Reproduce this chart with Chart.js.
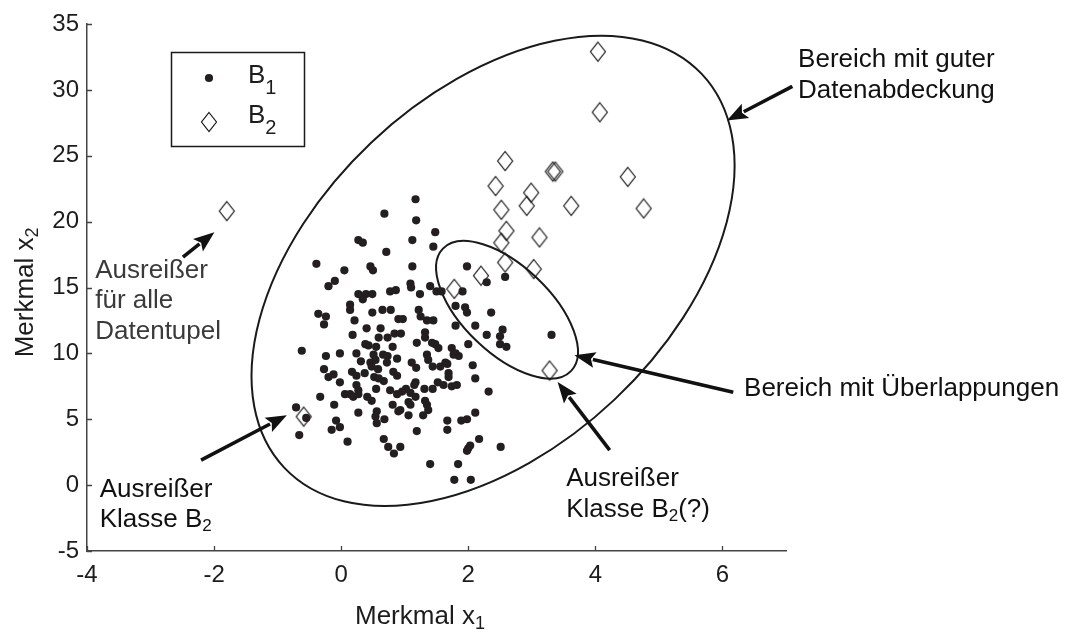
<!DOCTYPE html>
<html>
<head>
<meta charset="utf-8">
<script src="https://cdn.jsdelivr.net/npm/chart.js@4.4.1/dist/chart.umd.min.js"></script>
<style>
  html, body { margin: 0; padding: 0; background: #fff; }
  #wrap { width: 1071px; height: 637px; }
</style>
</head>
<body>
<div id="wrap"><canvas id="c" width="1071" height="637"></canvas></div>
<script>
// Class B1 samples (feature x1, feature x2)
const b1X = [
  0.68, 0.27, 0.34, 0.71, -0.39, 0.05, 0.46, 0.50, -0.10, -0.20, 0.27, 0.39, 0.49, 0.34, 0.77, 0.86, 0.14,
  0.14, -0.36, -0.24, -0.27, 0.21, 0.49, 0.65, 0.78, 0.90, 0.97, 0.40, 0.62, 0.18, 0.59, 0.73, 0.84, 0.94,
  1.17, 1.18, 1.48, 1.12, 1.45, 1.12, 1.98, 2.58, 2.29, 1.09, 1.10, 1.40, 1.50, 1.58, 1.91, 1.24,
  1.80, 1.95, 1.98, 2.36, 1.22, 1.25, 1.45, 1.35, 1.80, 2.11, 2.54, 2.50, 2.29, 3.31, 1.32, 1.32,
  -0.62, -0.24, -0.02, 0.24, -0.27, -0.20, -0.12, -0.02, 0.17, 0.24, 0.31, 0.37, 0.38, 0.43, 0.55,
  0.81, 0.51, 0.54, 0.66, 0.73, 0.72, 0.88, 0.46, 0.48, 0.58, 0.52, 0.59, 0.67, 0.82, 0.88,
  0.24, 0.27, 0.06, 0.14, 0.19, 0.27, 0.55, 0.41, 0.48, 0.77, 0.88, -0.33, -0.11, 0.27, 0.56,
  0.54, 0.68, 0.56, 0.81, 0.90, -0.71, -0.55, -0.66, -0.08, -0.02, -0.15, 0.10, 0.67, 0.74, 0.83,
  2.50, 2.60, 2.00, 1.19, 1.43, 1.48, 1.53, 1.74, 1.80, 1.85, 1.77, 1.35, 1.37, 1.11, 1.18,
  1.44, 1.56, 1.64, 1.67, 2.07, 1.69, 1.69, 2.11, 1.17, 1.15, 1.52, 1.61, 1.74, 1.82, 1.31,
  1.44, 1.02, 0.96, 1.09, 1.17, 2.32, 1.06, 1.09, 1.32, 1.35, 1.37, 0.93, 1.06, 1.29, 2.11,
  1.67, 1.67, 1.89, 1.98, 1.19, 2.17, 2.03, 2.00, 1.98, 2.51, 0.93, 1.40, 1.84, 1.78, 2.04
];
const b1Y = [
  20.6, 18.6, 18.4, 17.7, 16.8, 16.3, 16.6, 16.3, 15.5, 15.1, 14.5, 14.5, 14.5, 14.1, 14.7, 14.8, 13.7,
  13.3, 13.0, 12.8, 12.2, 12.5, 13.1, 13.3, 13.3, 12.6, 12.6, 11.9, 11.9, 11.4, 11.2, 11.2, 11.5, 11.5,
  21.7, 20.1, 19.2, 18.6, 18.1, 16.6, 16.6, 15.8, 15.4, 15.3, 15.0, 15.1, 14.7, 14.7, 14.7, 14.5,
  13.6, 13.5, 13.1, 13.1, 13.3, 12.8, 12.5, 12.5, 12.1, 12.1, 11.8, 11.3, 11.4, 11.4, 11.6, 11.2,
  10.2, 9.8, 10.0, 10.0, 8.8, 8.2, 8.4, 7.8, 8.6, 8.3, 9.4, 8.5, 10.7, 10.6, 10.5,
  10.5, 9.9, 9.5, 9.9, 9.8, 9.3, 9.6, 9.3, 9.0, 8.8, 8.2, 8.1, 7.9, 8.6, 8.3,
  7.6, 7.2, 6.9, 6.9, 6.7, 6.9, 7.3, 6.7, 6.4, 7.2, 6.9, 6.7, 6.1, 5.5, 5.6,
  5.2, 5.0, 4.7, 6.1, 5.6, 5.9, 5.1, 3.8, 4.9, 4.4, 4.2, 3.3, 3.5, 2.9, 2.4,
  10.7, 10.5, 10.7, 10.8, 10.8, 10.7, 10.4, 10.4, 10.0, 9.8, 9.9, 9.9, 9.5, 9.3, 8.9,
  9.0, 9.0, 9.3, 9.2, 9.1, 8.5, 8.2, 8.1, 7.8, 7.6, 7.8, 7.6, 7.5, 7.6, 7.3,
  7.3, 7.3, 7.1, 7.0, 6.7, 7.1, 6.3, 6.1, 6.4, 6.1, 5.7, 5.7, 5.3, 5.3, 5.5,
  4.9, 4.2, 4.9, 5.0, 4.1, 3.5, 3.0, 2.8, 2.6, 2.9, 2.9, 1.6, 1.6, 0.4, 0.4
];

// Class B2 samples
const b2X = [4.04, 4.07, 2.58, 2.43, 3.33, 3.37, 4.51, 2.99, 2.92, 2.52, 3.62, 4.76, 2.60, 2.52, 3.12, 2.58, 3.03, 2.20, 1.78, 3.28, -1.80, -0.59];
const b2Y = [32.9, 28.3, 24.6, 22.7, 23.8, 23.8, 23.4, 22.2, 21.2, 20.9, 21.2, 21.0, 19.3, 18.4, 18.8, 16.9, 16.4, 15.9, 14.9, 8.7, 20.8, 5.2];

// Axis ranges and tick values
const xRange = [-4, 7];
const yRange = [-5, 35];
const xTicks = [-4, -2, 0, 2, 4, 6];
const yTicks = [-5, 0, 5, 10, 15, 20, 25, 30, 35];

// Regions: centre plus two conjugate semi-axis vectors, in data units
const regionCoverage = { center: [2.39, 16.26], u: [3.283, 14.95], v: [-1.915, 9.75] };
const regionOverlap  = { center: [2.61, 13.31], u: [1.009, -4.64], v: [0.474, 2.392] };

// Pointer arrows: tail -> head, in data units
const arrows = [
  { from: [7.10, 30.27], to: [6.07, 27.67] },
  { from: [-2.49, 17.31], to: [-1.995, 19.2] },
  { from: [-2.205, 1.90], to: [-0.855, 5.31] },
  { from: [6.17, 7.05], to: [3.67, 9.86] },
  { from: [4.225, 2.65], to: [3.406, 7.83] }
];

// Text notes: lines anchored at a data position (left edge, first baseline)
const notes = [
  { at: [7.19, 31.7], lines: [['Bereich mit guter'], ['Datenabdeckung']], color: '#111' },
  { at: [-3.87, 15.74], lines: [['Ausreißer'], ['für alle'], ['Datentupel']], color: '#3a3a3a' },
  { at: [6.34, 6.8], lines: [['Bereich mit Überlappungen']], color: '#111' },
  { at: [-3.80, -0.89], lines: [['Ausreißer'], ['Klasse B', '2']], color: '#111' },
  { at: [3.54, -0.08], lines: [['Ausreißer'], ['Klasse B', '2', '(?)']], color: '#111' }
];

const FONT = '"Liberation Sans", Arial, Helvetica, sans-serif';
const INK = '#1c1c1c';
const DOT = '#231f20';

// Hollow diamond marker
const diamond = document.createElement('canvas');
diamond.width = 18; diamond.height = 22;
(function () {
  const g = diamond.getContext('2d');
  g.strokeStyle = '#161616';
  g.lineWidth = 1.2;
  g.beginPath();
  g.moveTo(9, 1.5); g.lineTo(16.5, 11); g.lineTo(9, 20.5); g.lineTo(1.5, 11); g.closePath();
  g.stroke();
})();

function ellipsePath(ctx, xs, ys, r) {
  const cx = xs.getPixelForValue(r.center[0]);
  const cy = ys.getPixelForValue(r.center[1]);
  const ux = xs.getPixelForValue(r.center[0] + r.u[0]) - cx;
  const uy = ys.getPixelForValue(r.center[1] + r.u[1]) - cy;
  const vx = xs.getPixelForValue(r.center[0] + r.v[0]) - cx;
  const vy = ys.getPixelForValue(r.center[1] + r.v[1]) - cy;
  ctx.save();
  ctx.transform(ux, uy, vx, vy, cx, cy);
  ctx.beginPath();
  ctx.arc(0, 0, 1, 0, Math.PI * 2);
  ctx.restore();
}

function drawArrow(ctx, x0, y0, x1, y1) {
  const ang = Math.atan2(y1 - y0, x1 - x0);
  const head = 21, half = 8;
  const bx = x1 - head * Math.cos(ang), by = y1 - head * Math.sin(ang);
  ctx.beginPath();
  ctx.moveTo(x0, y0);
  ctx.lineTo(bx + 2 * Math.cos(ang), by + 2 * Math.sin(ang));
  ctx.lineWidth = 3.6;
  ctx.strokeStyle = '#111';
  ctx.stroke();
  ctx.beginPath();
  ctx.moveTo(x1, y1);
  ctx.lineTo(bx + half * Math.sin(ang), by - half * Math.cos(ang));
  ctx.lineTo(bx + 4 * Math.cos(ang), by + 4 * Math.sin(ang));
  ctx.lineTo(bx - half * Math.sin(ang), by + half * Math.cos(ang));
  ctx.closePath();
  ctx.fillStyle = '#111';
  ctx.fill();
}

// Text with subscript pieces: parts alternate normal / subscript / normal
function richText(ctx, parts, x, y, size, subSize, drop) {
  let cx = x;
  parts.forEach((p, i) => {
    const sub = i % 2 === 1;
    ctx.font = (sub ? subSize : size) + 'px ' + FONT;
    ctx.fillText(p, cx, sub ? y + drop : y);
    cx += ctx.measureText(p).width;
  });
}

const decor = {
  id: 'decor',
  beforeDatasetsDraw(chart) {
    const { ctx, scales: { x, y } } = chart;
    ctx.save();
    ctx.strokeStyle = '#1a1a1a';
    ctx.lineWidth = 2;
    ellipsePath(ctx, x, y, regionCoverage); ctx.stroke();
    ellipsePath(ctx, x, y, regionOverlap); ctx.stroke();
    ctx.restore();
  },
  afterDraw(chart) {
    const { ctx, chartArea: a, scales: { x, y } } = chart;
    ctx.save();
    // inward tick marks
    ctx.strokeStyle = '#444';
    ctx.lineWidth = 1.3;
    ctx.beginPath();
    xTicks.forEach(v => {
      const px = Math.round(x.getPixelForValue(v)) + 0.5;
      ctx.moveTo(px, a.bottom); ctx.lineTo(px, a.bottom - 5);
    });
    yTicks.forEach(v => {
      const py = Math.round(y.getPixelForValue(v)) + 0.5;
      ctx.moveTo(a.left, py); ctx.lineTo(a.left + 5, py);
    });
    ctx.stroke();

    // arrows
    arrows.forEach(ar => drawArrow(ctx,
      x.getPixelForValue(ar.from[0]), y.getPixelForValue(ar.from[1]),
      x.getPixelForValue(ar.to[0]), y.getPixelForValue(ar.to[1])));

    // notes
    ctx.textBaseline = 'alphabetic';
    ctx.textAlign = 'left';
    notes.forEach(n => {
      ctx.fillStyle = n.color;
      const px = x.getPixelForValue(n.at[0]);
      const py = y.getPixelForValue(n.at[1]);
      n.lines.forEach((parts, i) => richText(ctx, parts, px, py + i * 30.5, 26, 17, 4));
    });

    // axis titles
    ctx.fillStyle = INK;
    richText(ctx, ['Merkmal x', '1'], a.left + 268, a.bottom + 73, 26, 18, 5);
    ctx.save();
    ctx.translate(a.left - 54, y.getPixelForValue(9.7));
    ctx.rotate(-Math.PI / 2);
    richText(ctx, ['Merkmal x', '2'], 0, 0, 26, 18, 5);
    ctx.restore();

    // legend
    const lx = a.left + 84, ly = a.top + 28;
    ctx.strokeStyle = '#1a1a1a';
    ctx.lineWidth = 1.5;
    ctx.strokeRect(lx + 0.5, ly + 0.5, 133, 94);
    ctx.fillStyle = DOT;
    ctx.beginPath();
    ctx.arc(lx + 38, ly + 26, 4.1, 0, Math.PI * 2);
    ctx.fill();
    ctx.drawImage(diamond, lx + 38 - 9, ly + 70 - 11);
    ctx.fillStyle = INK;
    richText(ctx, ['B', '1'], lx + 77, ly + 31, 26, 20, 11);
    richText(ctx, ['B', '2'], lx + 77, ly + 71, 26, 20, 11);
    ctx.restore();
  }
};

const tickFont = { family: FONT, size: 24 };

new Chart(document.getElementById('c'), {
  type: 'scatter',
  data: {
    datasets: [
      {
        label: 'B1',
        data: b1X.map((v, i) => ({ x: v, y: b1Y[i] })),
        pointStyle: 'circle',
        pointRadius: 4.1,
        pointBorderWidth: 0,
        pointBackgroundColor: DOT,
        pointBorderColor: DOT
      },
      {
        label: 'B2',
        data: b2X.map((v, i) => ({ x: v, y: b2Y[i] })),
        pointStyle: diamond,
        pointRadius: 9
      }
    ]
  },
  options: {
    responsive: false,
    animation: false,
    devicePixelRatio: 1,
    layout: { padding: { left: 0, right: 285, top: 24, bottom: 0 } },
    plugins: { legend: { display: false }, tooltip: { enabled: false } },
    scales: {
      x: {
        type: 'linear',
        min: xRange[0], max: xRange[1],
        afterFit: s => { s.height = 86; },
        afterBuildTicks: s => { s.ticks = xTicks.map(v => ({ value: v })); },
        ticks: { font: tickFont, color: INK, padding: 10, includeBounds: false, maxRotation: 0 },
        grid: { drawOnChartArea: false, drawTicks: false },
        border: { display: true, color: '#444', width: 1.5 }
      },
      y: {
        type: 'linear',
        min: yRange[0], max: yRange[1],
        afterFit: s => { s.width = 87; },
        afterBuildTicks: s => { s.ticks = yTicks.map(v => ({ value: v })); },
        ticks: { font: tickFont, color: INK, padding: 8 },
        grid: { drawOnChartArea: false, drawTicks: false },
        border: { display: true, color: '#444', width: 1.5 }
      }
    }
  },
  plugins: [decor]
});
</script>
</body>
</html>
